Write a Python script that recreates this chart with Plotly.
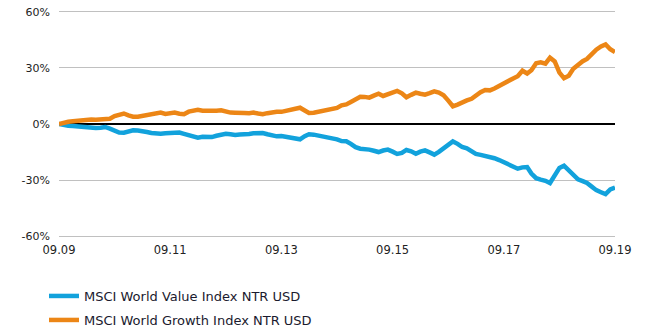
import pandas as pd
import plotly.graph_objects as go

dates = pd.date_range("2009-09-01", "2019-09-01", freq="MS")

growth = [
    0.0, 0.8, 1.2, 1.5, 1.8, 2.0, 2.2, 2.4, 2.3, 2.6,
    2.5, 2.8, 4.2, 5.2, 5.6, 4.6, 3.9, 3.9, 4.4, 4.7,
    5.2, 5.9, 6.1, 5.4, 5.7, 6.1, 5.5, 5.2, 6.6, 7.3,
    7.6, 7.1, 6.9, 6.8, 7.1, 7.3, 6.6, 6.1, 6.0, 6.2,
    5.9, 5.8, 6.1, 5.6, 5.2, 5.8, 6.4, 6.6, 6.5, 7.0,
    7.4, 8.0, 8.7, 7.2, 5.9, 6.0, 6.4, 6.8, 7.5, 7.9,
    8.6, 10.0, 10.5, 11.8, 13.4, 14.6, 14.5, 14.1, 15.2, 16.2,
    15.0, 15.8, 16.6, 17.7, 16.4, 14.3, 15.6, 16.8, 16.2, 15.7,
    16.5, 17.5, 16.8, 15.4, 12.5, 9.5, 10.4, 11.8, 12.6, 13.5,
    15.5, 17.0, 18.2, 18.0, 19.0, 20.5, 21.8, 23.0, 24.4, 25.6,
    28.5, 27.0, 28.8, 32.5, 33.0, 32.3, 35.5, 33.5, 27.5, 24.5,
    25.8, 29.5, 31.8, 33.6, 34.8, 37.5, 39.8, 41.5, 42.6, 40.0,
    38.5,
]

value = [
    0.0, -0.6, -0.9, -1.1, -1.4, -1.6, -1.8, -1.9, -2.1, -2.0,
    -1.6, -2.5, -3.8, -4.6, -4.7, -3.8, -3.4, -3.5, -3.7, -4.3,
    -4.8, -5.1, -5.2, -4.9, -4.6, -4.7, -4.6, -5.3, -6.0, -7.0,
    -7.3, -6.8, -7.1, -7.0, -6.3, -5.8, -5.2, -5.5, -5.9, -5.6,
    -5.7, -5.4, -5.0, -4.7, -4.8, -5.5, -6.2, -6.6, -6.4, -6.8,
    -7.0, -7.6, -8.2, -6.5, -5.5, -5.7, -6.1, -6.4, -7.0, -7.6,
    -8.2, -9.1, -9.2, -10.6, -12.4, -13.2, -13.3, -13.7, -14.3, -15.0,
    -14.2, -13.7, -14.8, -16.0, -15.5, -13.9, -14.6, -15.9, -14.8, -14.1,
    -15.2, -16.4, -14.9, -13.0, -10.8, -9.3, -10.6, -12.3, -13.0, -14.5,
    -16.0, -16.5, -17.0, -17.6, -18.3, -19.3, -20.4, -21.4, -22.6, -23.9,
    -23.2, -23.0, -26.5, -29.0, -29.8, -30.4, -31.6, -27.0, -23.5, -22.3,
    -25.0, -27.6, -29.6, -30.6, -31.6, -33.5, -35.4, -36.5, -37.5, -35.0,
    -34.0,
]

series_names = ["MSCI World Value Index NTR USD", "MSCI World Growth Index NTR USD"]
y_tickvals = [-60, -30, 0, 30, 60]
y_ticktext = ["-60%", "-30%", "0%", "30%", "60%"]
x_tickvals = ["2009-09-01", "2011-09-01", "2013-09-01", "2015-09-01", "2017-09-01", "2019-09-01"]
x_ticktext = ["09.09", "09.11", "09.13", "09.15", "09.17", "09.19"]

BLUE = "#12A2DC"
ORANGE = "#EC8616"
FONT = "DejaVu Sans"

fig = go.Figure()
fig.add_trace(go.Scatter(x=dates, y=value, mode="lines", name=series_names[0],
                         line=dict(color=BLUE, width=4.5), legend="legend"))
fig.add_trace(go.Scatter(x=dates, y=growth, mode="lines", name=series_names[1],
                         line=dict(color=ORANGE, width=4.5), legend="legend2"))

PLOT_TOP = 10
PLOT_BOTTOM = 238
PLOT_H = PLOT_BOTTOM - PLOT_TOP

def ypaper(px):
    return (PLOT_BOTTOM - px) / PLOT_H

fig.update_layout(
    width=666, height=333,
    margin=dict(l=59, r=51, t=PLOT_TOP, b=333 - PLOT_BOTTOM, pad=0, autoexpand=False),
    paper_bgcolor="white", plot_bgcolor="white",
    font=dict(family=FONT, size=11, color="#222222"),
    xaxis=dict(
        range=["2009-09-01", "2019-09-01"],
        tickvals=x_tickvals, ticktext=x_ticktext,
        showgrid=False, showline=False, zeroline=False, ticks="",
        ticklabelstandoff=3,
        tickfont=dict(size=11.5, color="#222222"),
    ),
    yaxis=dict(
        range=[-61, 61], tickvals=y_tickvals, ticktext=y_ticktext,
        showgrid=True, gridcolor="#C0C0C0", gridwidth=1,
        zeroline=True, zerolinecolor="#000000", zerolinewidth=1.5,
        showline=False, ticks="", ticklabelstandoff=8,
        tickfont=dict(size=11, color="#222222"),
    ),
    legend=dict(x=(44 - 59) / 556, xanchor="left", y=ypaper(296), yanchor="middle",
                font=dict(family=FONT, size=13, color="#1a1a2e"),
                itemwidth=30, bgcolor="rgba(0,0,0,0)"),
    legend2=dict(x=(44 - 59) / 556, xanchor="left", y=ypaper(320), yanchor="middle",
                 font=dict(family=FONT, size=13, color="#1a1a2e"),
                 itemwidth=30, bgcolor="rgba(0,0,0,0)"),
    showlegend=True,
)

fig.write_html("out.html")
